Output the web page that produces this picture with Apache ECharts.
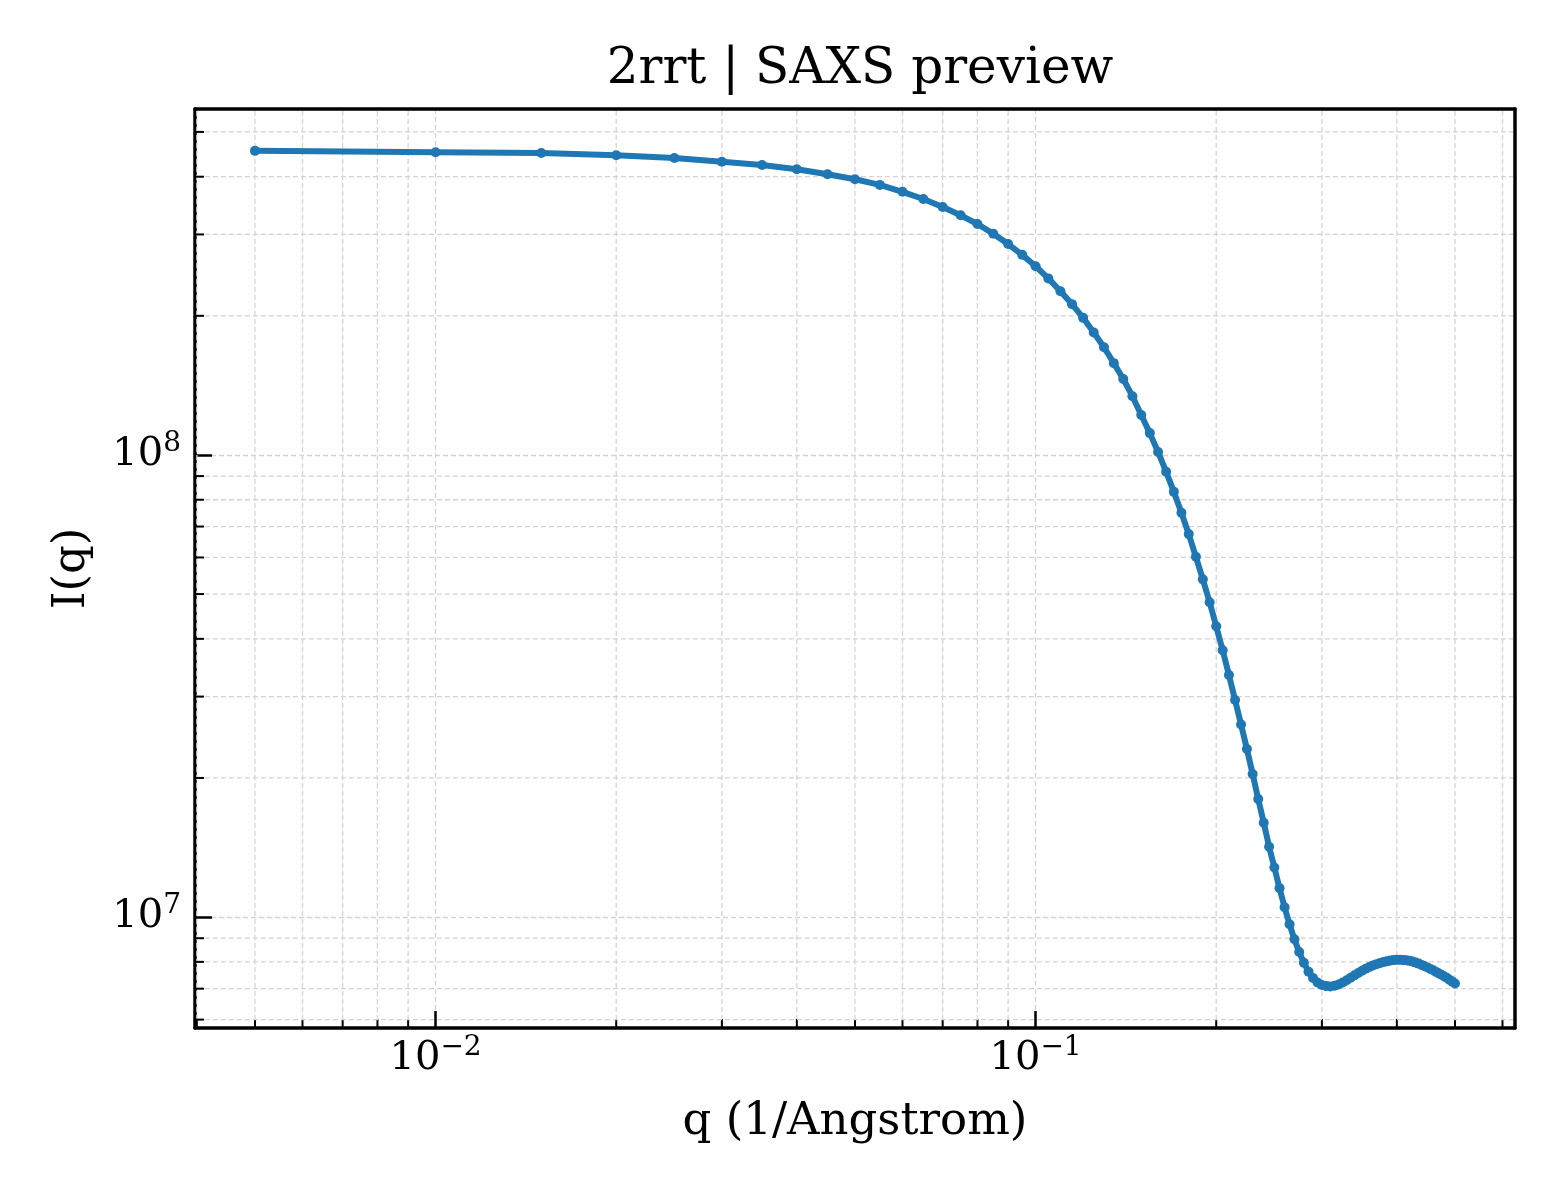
<!DOCTYPE html>
<html>
<head>
<meta charset="utf-8">
<title>2rrt | SAXS preview</title>
<script src="https://cdn.jsdelivr.net/npm/echarts@6/dist/echarts.min.js"></script>
<style>
  html, body { margin: 0; padding: 0; background: #fff; }
  #chart { width: 1560px; height: 1200px; }
</style>
</head>
<body>
<div id="chart"></div>
<script>
// scattering vector q (1/Angstrom)
const q = [
  0.005, 0.010, 0.015, 0.020, 0.025, 0.030, 0.035, 0.040, 0.045, 0.050,
  0.055, 0.060, 0.065, 0.070, 0.075, 0.080, 0.085, 0.090, 0.095, 0.100,
  0.105, 0.110, 0.115, 0.120, 0.125, 0.130, 0.135, 0.140, 0.145, 0.150,
  0.155, 0.160, 0.165, 0.170, 0.175, 0.180, 0.185, 0.190, 0.195, 0.200,
  0.205, 0.210, 0.215, 0.220, 0.225, 0.230, 0.235, 0.240, 0.245, 0.250,
  0.255, 0.260, 0.265, 0.270, 0.275, 0.280, 0.285, 0.290, 0.295, 0.300,
  0.305, 0.310, 0.315, 0.320, 0.325, 0.330, 0.335, 0.340, 0.345, 0.350,
  0.355, 0.360, 0.365, 0.370, 0.375, 0.380, 0.385, 0.390, 0.395, 0.400,
  0.405, 0.410, 0.415, 0.420, 0.425, 0.430, 0.435, 0.440, 0.445, 0.450,
  0.455, 0.460, 0.465, 0.470, 0.475, 0.480, 0.485, 0.490, 0.495, 0.500
];

// intensity I(q)
const intensity = [
  4.55e8, 4.52e8, 4.50e8, 4.45e8, 4.39e8, 4.31e8, 4.24e8, 4.15e8, 4.05e8, 3.95e8,
  3.84e8, 3.71e8, 3.58e8, 3.44e8, 3.30e8, 3.16e8, 3.01e8, 2.86e8, 2.71e8, 2.56e8,
  2.41e8, 2.26e8, 2.12e8, 1.98e8, 1.84e8, 1.71e8, 1.58e8, 1.46e8, 1.34e8, 1.22e8,
  1.115e8, 1.015e8, 9.20e7, 8.32e7, 7.50e7, 6.74e7, 6.02e7, 5.38e7, 4.80e7, 4.26e7,
  3.78e7, 3.34e7, 2.95e7, 2.61e7, 2.31e7, 2.04e7, 1.80e7, 1.60e7, 1.42e7, 1.28e7,
  1.155e7, 1.05e7, 9.65e6, 8.95e6, 8.40e6, 7.96e6, 7.62e6, 7.38e6, 7.22e6, 7.13e6,
  7.09e6, 7.08e6, 7.10e6, 7.15e6, 7.22e6, 7.30e6, 7.39e6, 7.48e6, 7.57e6, 7.65e6,
  7.73e6, 7.80e6, 7.86e6, 7.91e6, 7.95e6, 7.99e6, 8.02e6, 8.05e6, 8.07e6, 8.08e6,
  8.08e6, 8.07e6, 8.06e6, 8.04e6, 8.01e6, 7.97e6, 7.93e6, 7.88e6, 7.83e6, 7.78e6,
  7.72e6, 7.67e6, 7.61e6, 7.55e6, 7.50e6, 7.44e6, 7.38e6, 7.31e6, 7.25e6, 7.18e6
];

// axis ranges (log axes, 5% padding like matplotlib)
const xMin = 0.003972, xMax = 0.6295;
const yMin = 5.754e6, yMax = 5.605e8;

// minor tick positions (2..9 x 10^n inside the range)
function minorTicks(lo, hi) {
  const out = [];
  for (let e = Math.floor(Math.log10(lo)); e <= Math.ceil(Math.log10(hi)); e++) {
    for (let k = 2; k <= 9; k++) {
      const v = k * Math.pow(10, e);
      if (v > lo && v < hi) out.push(v);
    }
  }
  return out;
}
const xMinor = minorTicks(xMin, xMax);
const yMinor = minorTicks(yMin, yMax);

// 10^n labels, exponent as a raised smaller token
function powLabel(v) {
  const e = Math.log10(v);
  const r = Math.round(e);
  if (Math.abs(e - r) > 1e-6) return '';
  return '{b|10}{s|' + String(r).replace('-', '\u2212') + '}';
}

const FONT = 'DejaVu Serif';
const gridColor = '#d4d4d4';
const spine = { color: '#000', width: 3.5 };
const labelRich = {
  b: { fontFamily: FONT, fontSize: 40, lineHeight: 50, color: '#000' },
  s: { fontFamily: FONT, fontSize: 28, lineHeight: 28, verticalAlign: 'top', color: '#000' }
};

var myChart = echarts.init(document.getElementById('chart'));
var option;

option = {
  animation: false,
  backgroundColor: '#fff',
  title: {
    text: '2rrt | SAXS preview',
    left: 855,
    top: 40,
    textAlign: 'center',
    textStyle: { fontFamily: FONT, fontSize: 50, fontWeight: 'normal', color: '#000' }
  },
  grid: { left: 195, top: 109, width: 1320, height: 919, show: false },
  xAxis: [
    {
      type: 'log',
      logBase: 10,
      min: xMin,
      max: xMax,
      name: 'q (1/Angstrom)',
      nameLocation: 'middle',
      nameGap: 72,
      nameTextStyle: { fontFamily: FONT, fontSize: 45, color: '#000' },
      axisLine: { show: true, lineStyle: spine },
      axisTick: { show: true, inside: true, length: 17, lineStyle: { color: '#000', width: 2.5 } },
      axisLabel: {
        formatter: powLabel, rich: labelRich, margin: 6,
        showMinLabel: false, showMaxLabel: false
      },
      splitLine: { show: true, lineStyle: { color: gridColor, width: 1.3, type: [5, 3] } }
    },
    {
      // top spine
      type: 'log', logBase: 10, min: xMin, max: xMax, position: 'top',
      axisLine: { show: true, lineStyle: spine },
      axisTick: { show: false }, axisLabel: { show: false }, splitLine: { show: false }
    }
  ],
  yAxis: [
    {
      type: 'log',
      logBase: 10,
      min: yMin,
      max: yMax,
      name: 'I(q)',
      nameLocation: 'middle',
      nameGap: 100,
      nameTextStyle: { fontFamily: FONT, fontSize: 45, color: '#000' },
      axisLine: { show: true, lineStyle: spine },
      axisTick: { show: true, inside: true, length: 17, lineStyle: { color: '#000', width: 2.5 } },
      axisLabel: {
        formatter: powLabel, rich: labelRich, margin: 14,
        showMinLabel: false, showMaxLabel: false
      },
      splitLine: { show: true, lineStyle: { color: gridColor, width: 1.3, type: [5, 3] } }
    },
    {
      // right spine
      type: 'log', logBase: 10, min: yMin, max: yMax, position: 'right',
      axisLine: { show: true, lineStyle: spine },
      axisTick: { show: false }, axisLabel: { show: false }, splitLine: { show: false }
    }
  ],
  series: [
    {
      // minor vertical grid lines + minor ticks on the q axis
      type: 'custom',
      silent: true,
      z: 1,
      clip: false,
      encode: { x: 0, y: 1 },
      data: xMinor.map(v => [v, yMin]),
      renderItem: function (params, api) {
        const cs = params.coordSys;
        const x = api.coord([api.value(0), api.value(1)])[0];
        const bottom = cs.y + cs.height;
        return {
          type: 'group',
          children: [
            { type: 'line', shape: { x1: x, y1: cs.y + 2, x2: x, y2: bottom - 2 },
              style: { stroke: gridColor, lineWidth: 1.3, lineDash: [5, 3] } },
            { type: 'line', shape: { x1: x, y1: bottom, x2: x, y2: bottom - 9 },
              style: { stroke: '#000', lineWidth: 2 } }
          ]
        };
      }
    },
    {
      // minor horizontal grid lines + minor ticks on the I axis
      type: 'custom',
      silent: true,
      z: 1,
      clip: false,
      encode: { x: 0, y: 1 },
      data: yMinor.map(v => [xMin, v]),
      renderItem: function (params, api) {
        const cs = params.coordSys;
        const y = api.coord([api.value(0), api.value(1)])[1];
        return {
          type: 'group',
          children: [
            { type: 'line', shape: { x1: cs.x + 2, y1: y, x2: cs.x + cs.width - 2, y2: y },
              style: { stroke: gridColor, lineWidth: 1.3, lineDash: [5, 3] } },
            { type: 'line', shape: { x1: cs.x, y1: y, x2: cs.x + 9, y2: y },
              style: { stroke: '#000', lineWidth: 2 } }
          ]
        };
      }
    },
    {
      name: 'I(q)',
      type: 'line',
      z: 5,
      data: q.map((v, i) => [v, intensity[i]]),
      symbol: 'circle',
      symbolSize: 10,
      showSymbol: true,
      lineStyle: { color: '#1f77b4', width: 6 },
      itemStyle: { color: '#1f77b4' }
    }
  ]
};

option && myChart.setOption(option);
</script>
</body>
</html>
